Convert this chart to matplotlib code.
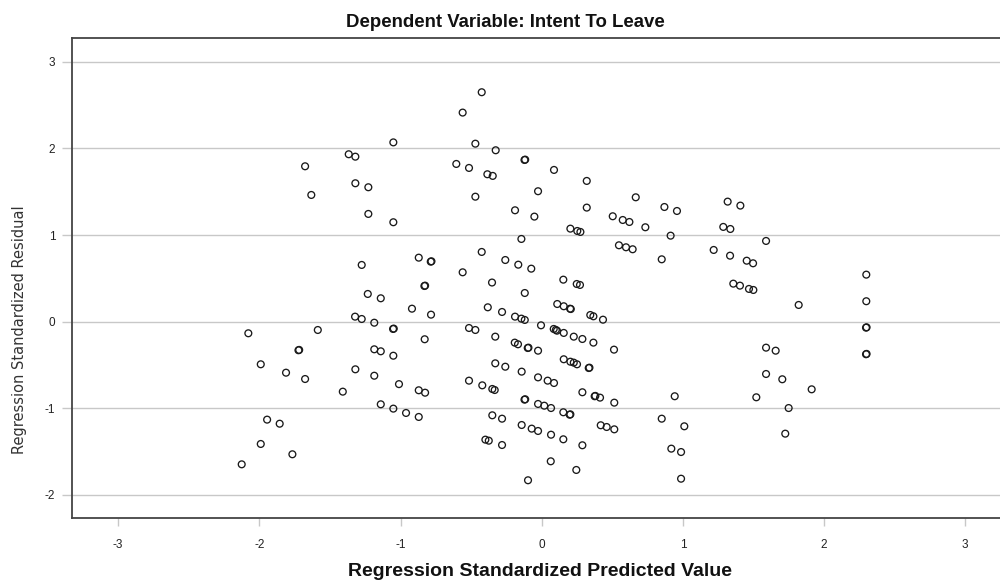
import matplotlib
matplotlib.use("Agg")
import matplotlib.pyplot as plt

plt.rcParams['font.family'] = ['Liberation Sans', 'DejaVu Sans']

title = "Dependent Variable: Intent To Leave"
x_label = "Regression Standardized Predicted Value"
y_label = "Regression Standardized Residual"
x_ticks = [-3, -2, -1, 0, 1, 2, 3]
y_ticks = [-2, -1, 0, 1, 2, 3]

predicted = [
    -1.051, -1.367, -1.320, -1.676, -1.320, -1.228, -1.632, -1.228, -1.051, -1.275,
    -0.425, -0.560, -0.470, -0.326, -0.122, -0.117, -0.605, -0.515, -0.385, -0.347,
    0.087, 0.319, -0.026, -0.470, -0.189, -0.052, 0.319, 0.666, 0.503, 0.574,
    0.621, 0.869, 0.958, 0.734, 0.913, 0.203, 0.252, 0.274, -0.144, 0.547,
    0.597, 0.644, 0.850, -0.425, -0.871, -0.786, -0.781, -0.258, -0.166, -0.074,
    -0.560, 1.317, 1.407, 1.286, 1.336, 1.589, 1.218, 1.334, 1.452, 1.497,
    2.299, -1.232, -1.140, -1.322, -1.275, -1.186, -1.053, -1.048, -2.078, -1.586,
    -1.723, -1.718, -1.186, -1.140, -1.051, -1.990, -1.811, -1.676, -1.320, -1.186,
    -1.011, -1.409, -1.140, -1.051, -1.945, -1.856, -1.990, -1.766, -2.125, -0.352,
    0.153, 0.248, 0.271, -0.831, -0.826, -0.120, -0.919, -0.784, -0.382, -0.281,
    -0.189, -0.144, -0.120, 0.110, 0.156, 0.201, 0.206, 0.344, 0.366, 0.434,
    -0.515, -0.470, -0.829, -0.005, 0.085, 0.100, 0.108, 0.156, 0.227, 0.288,
    0.366, 0.512, -0.329, -0.191, -0.168, -0.099, -0.094, -0.026, 0.156, 0.203,
    0.227, 0.250, 0.333, 0.338, -0.329, -0.258, -0.142, -0.026, 0.042, 0.087,
    -0.515, -0.421, -0.350, -0.333, -0.871, -0.826, 0.288, 0.375, 0.380, 0.413,
    0.514, 0.942, -0.122, -0.117, -0.026, 0.018, 0.066, 0.153, 0.198, 0.203,
    -0.961, -0.871, -0.350, -0.281, -0.142, -0.071, -0.026, 0.066, 0.153, 0.288,
    0.418, 0.460, 0.514, 0.850, 1.010, -0.399, -0.375, -0.281, 0.064, 0.245,
    -0.097, 0.918, 0.987, 0.987, 1.357, 1.404, 1.468, 1.499, 1.820, 2.299,
    2.297, 2.301, 2.297, 2.301, 1.589, 1.657, 1.589, 1.704, 1.912, 1.520,
    1.749, 1.725,
]

residual = [
    2.070, 1.933, 1.905, 1.794, 1.598, 1.552, 1.463, 1.244, 1.148, 0.655,
    2.649, 2.414, 2.055, 1.979, 1.867, 1.871, 1.821, 1.775, 1.702, 1.683,
    1.752, 1.625, 1.506, 1.443, 1.286, 1.213, 1.317, 1.436, 1.217, 1.174,
    1.151, 1.324, 1.278, 1.090, 0.993, 1.074, 1.047, 1.036, 0.955, 0.882,
    0.859, 0.836, 0.720, 0.805, 0.739, 0.693, 0.697, 0.712, 0.658, 0.612,
    0.570, 1.386, 1.340, 1.094, 1.070, 0.932, 0.828, 0.762, 0.704, 0.674,
    0.543, 0.320, 0.270, 0.058, 0.031, -0.012, -0.084, -0.080, -0.134, -0.096,
    -0.330, -0.326, -0.319, -0.342, -0.393, -0.492, -0.589, -0.662, -0.550, -0.624,
    -0.721, -0.808, -0.954, -1.004, -1.131, -1.178, -1.412, -1.531, -1.647, 0.452,
    0.485, 0.435, 0.424, 0.412, 0.416, 0.331, 0.150, 0.081, 0.166, 0.112,
    0.058, 0.035, 0.020, 0.204, 0.178, 0.150, 0.146, 0.077, 0.062, 0.023,
    -0.073, -0.096, -0.203, -0.042, -0.084, -0.095, -0.104, -0.130, -0.173, -0.200,
    -0.242, -0.323, -0.173, -0.242, -0.261, -0.304, -0.300, -0.335, -0.434, -0.462,
    -0.473, -0.492, -0.535, -0.531, -0.481, -0.520, -0.577, -0.643, -0.681, -0.708,
    -0.681, -0.735, -0.777, -0.789, -0.792, -0.820, -0.815, -0.861, -0.857, -0.877,
    -0.935, -0.861, -0.900, -0.896, -0.950, -0.970, -0.997, -1.046, -1.074, -1.070,
    -1.054, -1.100, -1.081, -1.120, -1.193, -1.235, -1.262, -1.305, -1.358, -1.427,
    -1.196, -1.216, -1.243, -1.120, -1.208, -1.362, -1.374, -1.424, -1.612, -1.712,
    -1.831, -1.466, -1.505, -1.813, 0.439, 0.416, 0.378, 0.366, 0.193, 0.236,
    -0.069, -0.065, -0.376, -0.372, -0.300, -0.335, -0.604, -0.665, -0.781, -0.873,
    -0.997, -1.293,
]

fig = plt.figure(figsize=(10, 5.88), dpi=100)
ax = fig.add_axes([0.072, 0.119, 0.928, 0.8165])

ax.scatter(predicted, residual, s=24, facecolors='none', edgecolors='#1a1a1a',
           linewidths=0.95, zorder=3)

ax.set_xlim(-3.327, 3.246)
ax.set_ylim(-2.267, 3.276)
ax.set_xticks(x_ticks)
ax.set_yticks(y_ticks)
ax.set_xticklabels([str(t) for t in x_ticks])
ax.set_yticklabels([str(t) for t in y_ticks])

ax.grid(axis='y', color='#c8c8c8', linewidth=1.0, zorder=0)
ax.grid(axis='x', visible=False)

for side in ['left', 'bottom', 'top']:
    ax.spines[side].set_color('#444444')
    ax.spines[side].set_linewidth(1.3)
ax.spines['right'].set_visible(False)

ax.tick_params(axis='y', length=7, width=1.0, color='#c8c8c8', pad=5,
               labelsize=8.5, labelcolor='#222222')
ax.tick_params(axis='x', length=6, width=1.0, color='#c8c8c8', pad=9,
               labelsize=8.5, labelcolor='#222222')

fig.text(0.505, 0.962, title, ha='center', va='center', fontsize=13.4,
         fontweight='bold', color='#111111')
fig.text(0.54, 0.028, x_label, ha='center', va='center', fontsize=14,
         fontweight='bold', color='#111111')
fig.text(0.02, 0.44, y_label, ha='center', va='center', fontsize=10.5,
         rotation=90, color='#333333', family=['DejaVu Sans'])

fig.savefig('out.png', dpi=100)
